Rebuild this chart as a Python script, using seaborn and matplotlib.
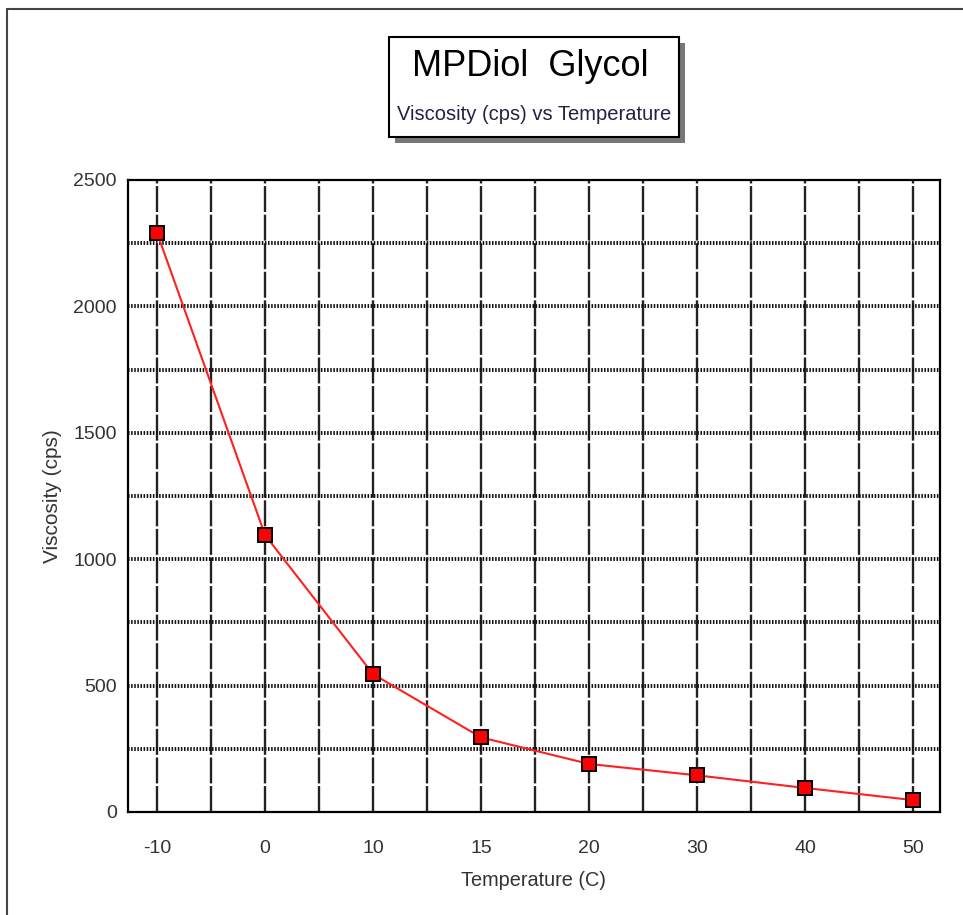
import matplotlib
matplotlib.use("Agg")
import matplotlib.pyplot as plt
from matplotlib.patches import Rectangle
from matplotlib.lines import Line2D
from matplotlib.ticker import MultipleLocator
import seaborn as sns
import pandas as pd

temps = ["-10", "0", "10", "15", "20", "30", "40", "50"]
viscosity = [2290, 1095, 545, 295, 190, 145, 95, 47]
title = "MPDiol  Glycol"
subtitle = "Viscosity (cps) vs Temperature"

df = pd.DataFrame({"Temperature (C)": temps, "Viscosity (cps)": viscosity})

sns.set_style("white")
plt.rcParams["font.family"] = ["Liberation Sans", "DejaVu Sans"]

fig = plt.figure(figsize=(9.63, 9.15), dpi=100)
ax = fig.add_axes([0.1329, 0.1126, 0.8432, 0.6907])

sns.lineplot(data=df, x="Temperature (C)", y="Viscosity (cps)", sort=False,
             color="#ff2020", linewidth=1.5, marker="s", markersize=9.5,
             markerfacecolor="red", markeredgecolor="black",
             markeredgewidth=1.4, ax=ax, zorder=5)

ax.set_xlim(-0.27, 7.25)
ax.set_ylim(0, 2500)
ax.yaxis.set_major_locator(MultipleLocator(500))

# vertical dashed grid every half category, horizontal dotted grid every 250
for xv in range(15):
    ax.axvline(xv * 0.5, color="#222222", linewidth=1.7,
               linestyle=(0, (11, 1.1)), zorder=1)
for yv in range(250, 2500, 250):
    ax.axhline(yv, color="#111111", linewidth=2.8,
               linestyle=(0, (0.4, 0.4)), zorder=1)

for s in ax.spines.values():
    s.set_color("black")
    s.set_linewidth(1.6)
    s.set_zorder(3)

ax.tick_params(axis="both", which="major", direction="in", length=5,
               width=1.5, color="black", labelsize=14, labelcolor="#333333")
ax.tick_params(axis="x", pad=20)
ax.tick_params(axis="y", pad=8)
ax.set_xlabel("Temperature (C)", fontsize=14.3, color="#333333", labelpad=10)
ax.set_ylabel("Viscosity (cps)", fontsize=15, color="#333333", labelpad=8)

# title box with shadow
shadow = Rectangle((395 / 963, 1 - 143 / 915), 290 / 963, 100 / 915,
                   transform=fig.transFigure, facecolor="#777777",
                   edgecolor="none", zorder=1)
box = Rectangle((389 / 963, 1 - 137 / 915), 290 / 963, 100 / 915,
                transform=fig.transFigure, facecolor="white",
                edgecolor="black", linewidth=1.5, zorder=2)
fig.patches.extend([shadow, box])
fig.text(530 / 963, 1 - 66 / 915, title, fontsize=26, ha="center",
         va="center", color="black", zorder=3)
fig.text(534 / 963, 1 - 114 / 915, subtitle, fontsize=14.5, ha="center",
         va="center", color="#222244", zorder=3)

# outer frame
fig.lines.append(Line2D([7 / 963, 7 / 963], [0, 1 - 9 / 915],
                        transform=fig.transFigure, color="#444444", lw=1.5))
fig.lines.append(Line2D([7 / 963, 1], [1 - 9 / 915, 1 - 9 / 915],
                        transform=fig.transFigure, color="#444444", lw=1.5))

fig.savefig("out.png", dpi=100, facecolor="white")
